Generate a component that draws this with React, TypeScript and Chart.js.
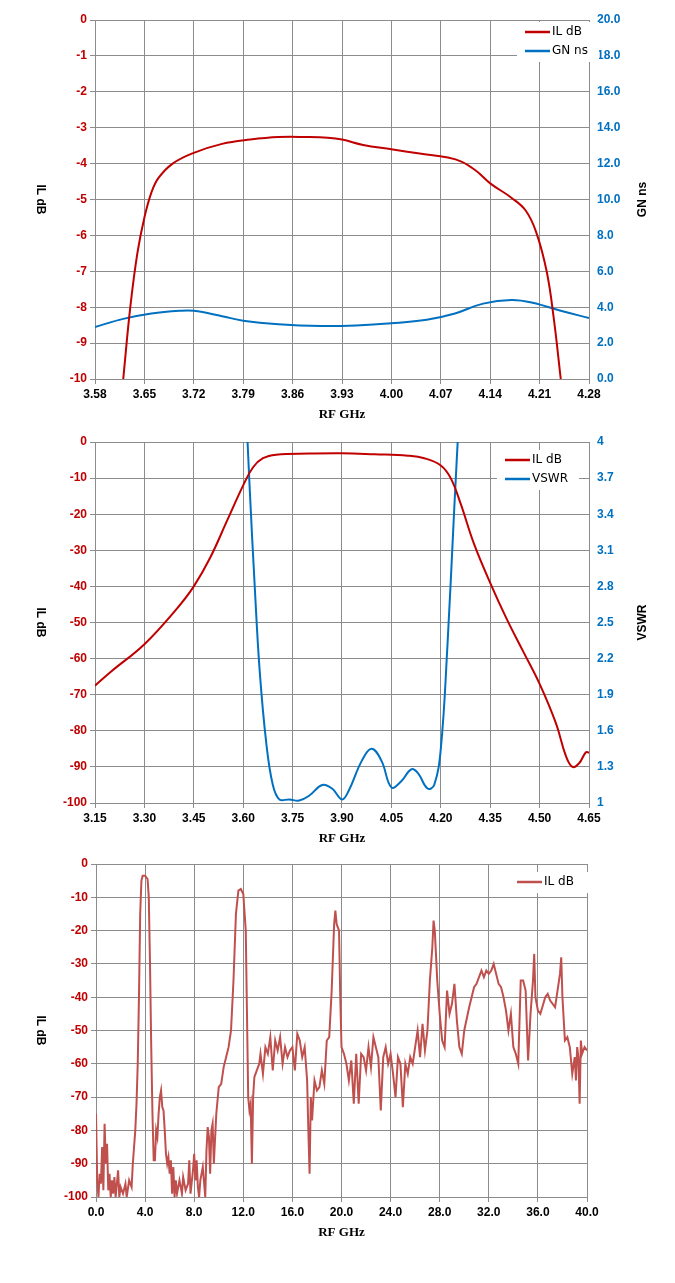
import React, { useEffect, useRef } from "react";
import { Chart, registerables } from "chart.js";
Chart.register(...registerables);

const RED = "#C00000";
const BLUE = "#0070C0";
const RED3 = "#C0504D";

// Chart 1
const c1XTicks = [3.58, 3.65, 3.72, 3.79, 3.86, 3.93, 4.0, 4.07, 4.14, 4.21, 4.28];
const c1IL: [number, number][] = [[3.62,-10],[3.63,-8],[3.64,-6.5],[3.65,-5.5],[3.66,-4.8],[3.67,-4.4],[3.69,-4.0],[3.72,-3.7],[3.76,-3.45],[3.80,-3.33],[3.84,-3.26],[3.88,-3.26],[3.91,-3.28],[3.93,-3.33],[3.96,-3.48],[4.00,-3.6],[4.04,-3.72],[4.08,-3.83],[4.10,-3.95],[4.12,-4.2],[4.14,-4.55],[4.17,-4.95],[4.19,-5.3],[4.205,-5.9],[4.22,-7.0],[4.23,-8.3],[4.24,-10]];
const c1GN: [number, number][] = [[3.58,2.9],[3.62,3.35],[3.66,3.65],[3.70,3.8],[3.72,3.8],[3.76,3.5],[3.79,3.25],[3.84,3.05],[3.90,2.95],[3.95,2.98],[4.00,3.1],[4.05,3.3],[4.09,3.65],[4.13,4.2],[4.17,4.4],[4.20,4.25],[4.24,3.8],[4.28,3.4]];

// Chart 2
const c2XTicks = [3.15, 3.3, 3.45, 3.6, 3.75, 3.9, 4.05, 4.2, 4.35, 4.5, 4.65];
const c2RTicks = [1, 1.3, 1.6, 1.9, 2.2, 2.5, 2.8, 3.1, 3.4, 3.7, 4];
const c2IL: [number, number][] = [[3.15,-67.5],[3.2,-63.5],[3.3,-56],[3.4,-46],[3.45,-40],[3.5,-32],[3.55,-22],[3.6,-12],[3.63,-7],[3.66,-4.5],[3.7,-3.5],[3.8,-3.2],[3.9,-3.1],[4.0,-3.4],[4.1,-3.8],[4.15,-4.5],[4.2,-6.5],[4.23,-10],[4.26,-17],[4.3,-28],[4.35,-39],[4.4,-49],[4.45,-58],[4.5,-67],[4.55,-78],[4.58,-87],[4.6,-90],[4.62,-89],[4.64,-86],[4.65,-86]];
const c2VSWR: [number, number][] = [[3.61,4.2],[3.62,3.6],[3.635,2.8],[3.65,2.1],[3.67,1.5],[3.69,1.15],[3.71,1.03],[3.74,1.03],[3.77,1.02],[3.80,1.06],[3.84,1.15],[3.87,1.12],[3.90,1.03],[3.92,1.1],[3.96,1.35],[3.99,1.45],[4.02,1.35],[4.05,1.13],[4.08,1.18],[4.11,1.28],[4.13,1.25],[4.16,1.12],[4.18,1.15],[4.2,1.45],[4.22,2.3],[4.24,3.4],[4.255,4.2]];

// Chart 3
const c3XTicks = [0, 4, 8, 12, 16, 20, 24, 28, 32, 36, 40];
const c3IL: [number, number][] = [[0,-75],[0.1,-95],[0.2,-100],[0.3,-93],[0.4,-96],[0.5,-85],[0.6,-98],[0.7,-78],[0.8,-90],[0.9,-84],[1.0,-98],[1.1,-93],[1.2,-100],[1.3,-95],[1.4,-99],[1.5,-94],[1.6,-100],[1.8,-92],[1.9,-100],[2.0,-97],[2.2,-99],[2.4,-96],[2.5,-100],[2.7,-95],[2.9,-97],[3.0,-90],[3.1,-85],[3.2,-80],[3.3,-72],[3.4,-60],[3.5,-40],[3.6,-15],[3.7,-5],[3.8,-3.5],[4.0,-3.5],[4.2,-4.5],[4.3,-10],[4.4,-30],[4.5,-55],[4.6,-75],[4.7,-89],[4.8,-89],[4.9,-80],[5.0,-82],[5.1,-75],[5.2,-70],[5.3,-68],[5.4,-73],[5.5,-74],[5.6,-80],[5.7,-87],[5.8,-90],[5.9,-88],[6.0,-93],[6.1,-89],[6.2,-99],[6.3,-91],[6.4,-100],[6.5,-95],[6.6,-99],[6.8,-95],[7.0,-99],[7.1,-94],[7.3,-98],[7.5,-96],[7.6,-89],[7.7,-99],[7.9,-92],[8.0,-87],[8.1,-95],[8.2,-89],[8.3,-97],[8.4,-100],[8.5,-95],[8.7,-91],[8.9,-100],[9.0,-86],[9.1,-79],[9.2,-82],[9.3,-93],[9.4,-80],[9.5,-78],[9.6,-90],[9.8,-75],[10.0,-67],[10.2,-66],[10.4,-61],[10.6,-58],[10.8,-55],[11.0,-50],[11.2,-35],[11.4,-15],[11.6,-8],[11.8,-7.5],[12.0,-9],[12.2,-20],[12.3,-45],[12.4,-70],[12.5,-74],[12.6,-72],[12.7,-90],[12.8,-70],[12.9,-64],[13.1,-62],[13.3,-60],[13.4,-57],[13.6,-63],[13.8,-55],[14.0,-57],[14.2,-52],[14.4,-62],[14.6,-53],[14.8,-56],[15.0,-52],[15.2,-60],[15.4,-55],[15.6,-58],[15.8,-56],[16.0,-55],[16.2,-62],[16.4,-51],[16.6,-53],[16.8,-58],[17.0,-55],[17.2,-65],[17.3,-80],[17.4,-93],[17.5,-70],[17.6,-77],[17.8,-65],[18.0,-68],[18.2,-67],[18.4,-62],[18.6,-66],[18.8,-53],[19.0,-52],[19.2,-38],[19.4,-18],[19.5,-14],[19.6,-18],[19.8,-20],[19.9,-40],[20.0,-55],[20.2,-57],[20.4,-60],[20.6,-65],[20.8,-59],[21.0,-72],[21.2,-57],[21.4,-72],[21.6,-57],[21.8,-58],[22.0,-62],[22.2,-55],[22.4,-61],[22.6,-52],[22.8,-55],[23.0,-58],[23.2,-74],[23.4,-58],[23.6,-55],[23.8,-60],[24.0,-57],[24.2,-63],[24.4,-70],[24.6,-58],[24.8,-60],[25.0,-73],[25.2,-60],[25.4,-63],[25.6,-58],[25.8,-60],[26.0,-55],[26.2,-50],[26.4,-58],[26.6,-48],[26.8,-56],[27.0,-50],[27.2,-35],[27.4,-25],[27.5,-17],[27.6,-20],[27.8,-35],[28.0,-45],[28.2,-53],[28.4,-55],[28.6,-38],[28.8,-45],[29.0,-42],[29.2,-36],[29.4,-47],[29.6,-55],[29.8,-57],[30.0,-50],[30.4,-43],[30.8,-37],[31.0,-36],[31.4,-32],[31.6,-34],[31.8,-32],[32.0,-33],[32.2,-32],[32.4,-30],[32.6,-33],[32.8,-36],[33.0,-37],[33.2,-40],[33.4,-44],[33.6,-50],[33.8,-45],[34.0,-55],[34.2,-57],[34.4,-60],[34.6,-35],[34.8,-35],[35.0,-38],[35.2,-59],[35.4,-45],[35.6,-35],[35.7,-27],[35.8,-40],[36.0,-44],[36.2,-45],[36.6,-40],[36.8,-39],[37.0,-41],[37.4,-43],[37.8,-33],[37.9,-28],[38.0,-40],[38.2,-53],[38.4,-52],[38.6,-55],[38.8,-63],[39.0,-58],[39.1,-65],[39.2,-55],[39.3,-58],[39.4,-72],[39.5,-53],[39.6,-57],[39.8,-55],[40.0,-56]];

const TICKFONT = { family: "'Liberation Sans', Arial, sans-serif", size: 12, weight: "bold" as const };
const GRID = "#8c8c8c";

const pts = (a: [number, number][]) => a.map(([x, y]) => ({ x, y }));

function titlesPlugin(left: string, right: string | null, legend: { label: string; color: string }[], legX: number, legY: number) {
  return {
    id: "custom",
    afterDraw(chart: any) {
      const ctx = chart.ctx;
      const a = chart.chartArea;
      ctx.save();
      ctx.fillStyle = "#000";
      ctx.font = "bold 13px 'Liberation Serif', 'Times New Roman', serif";
      ctx.textAlign = "center";
      ctx.textBaseline = "middle";
      ctx.fillText("RF GHz", (a.left + a.right) / 2, a.bottom + 36);
      ctx.font = "bold 12px 'Liberation Sans', Arial, sans-serif";
      ctx.save();
      ctx.translate(40, (a.top + a.bottom) / 2);
      ctx.rotate(Math.PI / 2);
      ctx.fillText(left, 0, 0);
      ctx.restore();
      if (right) {
        ctx.save();
        ctx.translate(643, (a.top + a.bottom) / 2);
        ctx.rotate(-Math.PI / 2);
        ctx.fillText(right, 0, 0);
        ctx.restore();
      }
      ctx.fillStyle = "#fff";
      ctx.fillRect(legX - 8, legY - 10, 82, legend.length * 19 + 2);
      ctx.font = "12px 'DejaVu Sans', sans-serif";
      ctx.textAlign = "left";
      legend.forEach((l, i) => {
        const y = legY + i * 19;
        ctx.strokeStyle = l.color;
        ctx.lineWidth = 2.5;
        ctx.beginPath();
        ctx.moveTo(legX, y);
        ctx.lineTo(legX + 25, y);
        ctx.stroke();
        ctx.fillStyle = "#000";
        ctx.fillText(l.label, legX + 27, y);
      });
      ctx.restore();
    },
  };
}

function xAxis(min: number, max: number, ticks: number[], dec: number, h: number) {
  return {
    type: "linear", min, max,
    afterBuildTicks: (s: any) => { s.ticks = ticks.map((v) => ({ value: v })); },
    afterFit: (s: any) => { s.height = h; },
    ticks: { color: "#000", font: TICKFONT, callback: (v: any) => Number(v).toFixed(dec), maxRotation: 0, autoSkip: false },
    grid: { color: GRID, tickLength: 5, tickColor: GRID },
    border: { color: GRID },
  };
}

function yAxis(pos: string, min: number, max: number, ticks: number[], dec: number | null, w: number, color: string, gridOn: boolean) {
  return {
    type: "linear", position: pos, min, max,
    afterBuildTicks: (s: any) => { s.ticks = ticks.map((v) => ({ value: v })); },
    afterFit: (s: any) => { s.width = w; },
    ticks: { color, font: TICKFONT, callback: (v: any) => dec === null ? String(+Number(v).toFixed(2)) : Number(v).toFixed(dec), autoSkip: false },
    grid: { display: gridOn, color: GRID, tickLength: 5, tickColor: GRID, drawOnChartArea: gridOn },
    border: { color: GRID },
  };
}

const range = (a: number, b: number, s: number) => { const r: number[] = []; for (let v = a; v <= b + 1e-9; v += s) r.push(+v.toFixed(4)); return r; };

function makeConfigs() {
  const common = { animation: false, responsive: false, maintainAspectRatio: false, plugins: { legend: { display: false }, tooltip: { enabled: false } } };
  const line = (data: any, color: string, axis = "y") => ({ data, borderColor: color, borderWidth: 2, pointRadius: 0, tension: 0.4, yAxisID: axis, fill: false });
  return [
    {
      type: "line",
      data: { datasets: [line(pts(c1IL), RED), line(pts(c1GN), BLUE, "y1")] },
      options: { ...common, layout: { padding: { top: 20, left: 0, right: 0, bottom: 0 } },
        scales: { x: xAxis(3.58, 4.28, c1XTicks, 2, 46), y: yAxis("left", -10, 0, range(-10, 0, 1), 0, 95, RED, true), y1: yAxis("right", 0, 20, range(0, 20, 2), 1, 86, BLUE, false) } },
      plugins: [titlesPlugin("IL dB", "GN ns", [{ label: "IL dB", color: RED }, { label: "GN ns", color: BLUE }], 525, 32)],
      h: 425, top: 0,
    },
    {
      type: "line",
      data: { datasets: [line(pts(c2IL), RED), line(pts(c2VSWR), BLUE, "y1")] },
      options: { ...common, layout: { padding: { top: 17 } },
        scales: { x: xAxis(3.15, 4.65, c2XTicks, 2, 49), y: yAxis("left", -100, 0, range(-100, 0, 10), 0, 95, RED, true), y1: yAxis("right", 1, 4, c2RTicks, null, 86, BLUE, false) } },
      plugins: [titlesPlugin("IL dB", "VSWR", [{ label: "IL dB", color: RED }, { label: "VSWR", color: BLUE }], 505, 35)],
      h: 427, top: 425,
    },
    {
      type: "line",
      data: { datasets: [{ ...line(pts(c3IL), RED3), tension: 0 }] },
      options: { ...common, layout: { padding: { top: 12, right: 88 } },
        scales: { x: xAxis(0, 40, c3XTicks, 1, 86), y: yAxis("left", -100, 0, range(-100, 0, 10), 0, 96, RED, true) } },
      plugins: [titlesPlugin("IL dB", null, [{ label: "IL dB", color: RED3 }], 517, 30)],
      h: 431, top: 852,
    },
  ];
}

function OneChart({ cfg }: { cfg: any }) {
  const ref = useRef<HTMLCanvasElement>(null);
  useEffect(() => {
    const { h, top, ...c } = cfg;
    const ch = new Chart(ref.current!, c as any);
    return () => ch.destroy();
  }, [cfg]);
  return (
    <div style={{ position: "absolute", left: 0, top: cfg.top, width: 675, height: cfg.h }}>
      <canvas ref={ref} width={675} height={cfg.h} style={{ width: 675, height: cfg.h }} />
    </div>
  );
}

const CONFIGS = makeConfigs();

export default function App() {
  return (
    <div style={{ background: "#fff" }}>
      {CONFIGS.map((c, i) => <OneChart key={i} cfg={c} />)}
    </div>
  );
}
